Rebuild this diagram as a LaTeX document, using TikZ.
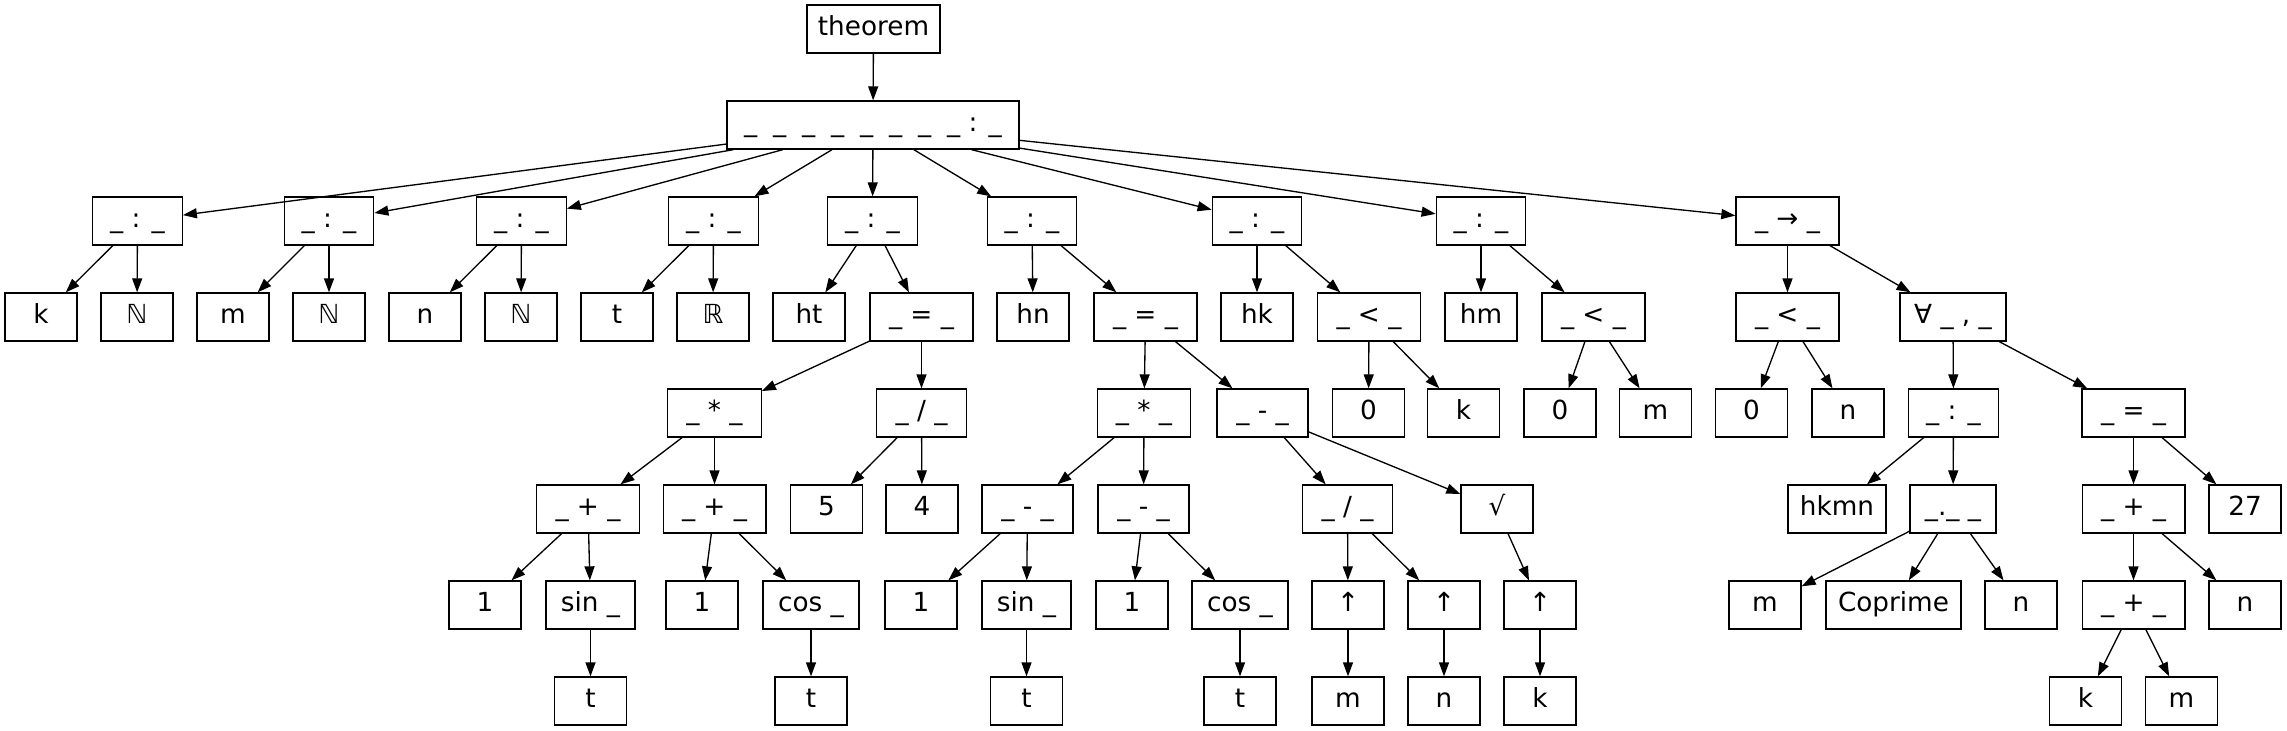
\documentclass[tikz,border=0pt]{standalone}
\usepackage{fontspec}
\setmainfont{DejaVu Sans}
\usetikzlibrary{arrows.meta}
\newcommand\gapu{\hspace{11.9pt}}
\tikzset{
  box/.style={draw, rectangle, line width=1pt, inner sep=0pt, minimum width=54pt, minimum height=36pt,
    text height=13pt, text depth=3pt, font=\fontsize{19.7pt}{24pt}\selectfont},
  bw/.style={minimum width=#1},
  arr/.style={-{Triangle[length=10.5pt,width=7.5pt]}, line width=1pt},
}
\begin{document}
\begin{tikzpicture}[x=0.75pt,y=-0.75pt]
\fill[white] (0,0) rectangle (2287,731);
\useasboundingbox (0,0) rectangle (2287,731);
% row 0,1
\node[box,bw=99.75pt] (thm) at (873.5,29) {theorem};
\node[box,bw=219pt] (top) at (873,125) {\_\gapu\_\gapu\_\gapu\_\gapu\_\gapu\_\gapu\_\gapu\_ : \_};
% row 2
\node[box,bw=67.1pt] (c1) at (137.5,221) {\_ : \_};
\node[box,bw=67.1pt] (c2) at (329,221) {\_ : \_};
\node[box,bw=67.1pt] (c3) at (521.5,221) {\_ : \_};
\node[box,bw=67.1pt] (c4) at (713.5,221) {\_ : \_};
\node[box,bw=67.1pt] (c5) at (872.5,221) {\_ : \_};
\node[box,bw=67.1pt] (c6) at (1032,221) {\_ : \_};
\node[box,bw=67.1pt] (c7) at (1257,221) {\_ : \_};
\node[box,bw=67.1pt] (c8) at (1481,221) {\_ : \_};
\node[box,bw=77.25pt] (imp) at (1787.5,221) {\_ → \_};
% row 3
\node[box] (k1) at (41,317) {k};
\node[box] (N1) at (137,317) {ℕ};
\node[box] (m1) at (233,317) {m};
\node[box] (N2) at (329,317) {ℕ};
\node[box] (n1) at (425,317) {n};
\node[box] (N3) at (521,317) {ℕ};
\node[box] (t1) at (617,317) {t};
\node[box] (R1) at (713,317) {ℝ};
\node[box] (ht) at (809,317) {ht};
\node[box,bw=77.25pt] (eqA) at (921.5,317) {\_ = \_};
\node[box] (hn) at (1033,317) {hn};
\node[box,bw=77.25pt] (eqB) at (1145.5,317) {\_ = \_};
\node[box] (hk) at (1257,317) {hk};
\node[box,bw=77.25pt] (ltA) at (1369,317) {\_ < \_};
\node[box] (hm) at (1481,317) {hm};
\node[box,bw=77.25pt] (ltB) at (1593.5,317) {\_ < \_};
\node[box,bw=77.25pt] (ltC) at (1787.5,317) {\_ < \_};
\node[box,bw=79.5pt] (fa) at (1953,317) {∀ \_ , \_};
% row 4
\node[box,bw=70.1pt] (mulA) at (714.5,413) {\_ * \_};
\node[box,bw=67.1pt] (divA) at (921.5,413) {\_ / \_};
\node[box,bw=70.1pt] (mulB) at (1144,413) {\_ * \_};
\node[box,bw=68.25pt] (subA) at (1262.5,413) {\_ - \_};
\node[box] (z1) at (1368.5,413) {0};
\node[box] (k2) at (1463.5,413) {k};
\node[box] (z2) at (1560,413) {0};
\node[box] (m2) at (1655.5,413) {m};
\node[box] (z3) at (1751.5,413) {0};
\node[box] (n2) at (1848,413) {n};
\node[box,bw=67.1pt] (col) at (1953.5,413) {\_ : \_};
\node[box,bw=77.25pt] (eqC) at (2133.5,413) {\_ = \_};
% row 5
\node[box,bw=77pt] (plA) at (588,509) {\_ + \_};
\node[box,bw=77pt] (plB) at (714.5,509) {\_ + \_};
\node[box] (five) at (826.5,509) {5};
\node[box] (four) at (922,509) {4};
\node[box,bw=68.25pt] (subB) at (1027.5,509) {\_ - \_};
\node[box,bw=68.25pt] (subC) at (1143.5,509) {\_ - \_};
\node[box,bw=67.1pt] (divB) at (1347.5,509) {\_ / \_};
\node[box] (sq) at (1497,509) {√};
\node[box,bw=73.5pt] (hkmn) at (1837,509) {hkmn};
\node[box,bw=64.5pt] (dot) at (1953,509) {\_.\_ \_};
\node[box,bw=77pt] (plC) at (2133.5,509) {\_ + \_};
\node[box] (n27) at (2245,509) {27};
% row 6
\node[box] (o1) at (485,605) {1};
\node[box,bw=66.75pt] (sinA) at (590.5,605) {sin \_};
\node[box] (o2) at (702,605) {1};
\node[box,bw=72pt] (cosA) at (811,605) {cos \_};
\node[box] (o3) at (921,605) {1};
\node[box,bw=66.75pt] (sinB) at (1026.5,605) {sin \_};
\node[box] (o4) at (1132,605) {1};
\node[box,bw=72pt] (cosB) at (1240,605) {cos \_};
\node[box] (upA) at (1348,605) {↑};
\node[box] (upB) at (1444,605) {↑};
\node[box] (upC) at (1540,605) {↑};
\node[box] (m3) at (1765,605) {m};
\node[box,bw=101.25pt] (cop) at (1893.5,605) {Coprime};
\node[box] (n3) at (2021,605) {n};
\node[box,bw=77pt] (plD) at (2133.5,605) {\_ + \_};
\node[box] (n4) at (2245,605) {n};
% row 7
\node[box] (tA) at (590.5,701) {t};
\node[box] (tB) at (811,701) {t};
\node[box] (tC) at (1026.5,701) {t};
\node[box] (tD) at (1240,701) {t};
\node[box] (m4) at (1348,701) {m};
\node[box] (n5) at (1444,701) {n};
\node[box] (k3) at (1540,701) {k};
\node[box] (k4) at (2085.5,701) {k};
\node[box] (m5) at (2181.5,701) {m};
% edges
\foreach \a/\b in {thm/top, top/c1, top/c2, top/c3, top/c4, top/c5, top/c6, top/c7, top/c8, top/imp,
  c1/k1, c1/N1, c2/m1, c2/N2, c3/n1, c3/N3, c4/t1, c4/R1, c5/ht, c5/eqA, c6/hn, c6/eqB,
  c7/hk, c7/ltA, c8/hm, c8/ltB, imp/ltC, imp/fa,
  eqA/mulA, eqA/divA, mulA/plA, mulA/plB, plA/o1, plA/sinA, sinA/tA, plB/o2, plB/cosA, cosA/tB,
  divA/five, divA/four,
  eqB/mulB, eqB/subA, mulB/subB, mulB/subC, subB/o3, subB/sinB, sinB/tC, subC/o4, subC/cosB, cosB/tD,
  subA/divB, subA/sq, divB/upA, divB/upB, upA/m4, upB/n5, sq/upC, upC/k3,
  ltA/z1, ltA/k2, ltB/z2, ltB/m2, ltC/z3, ltC/n2,
  fa/col, fa/eqC, col/hkmn, col/dot, dot/m3, dot/cop, dot/n3,
  eqC/plC, eqC/n27, plC/plD, plC/n4, plD/k4, plD/m5}
  \draw[arr] (\a) -- (\b);
\end{tikzpicture}
\end{document}
